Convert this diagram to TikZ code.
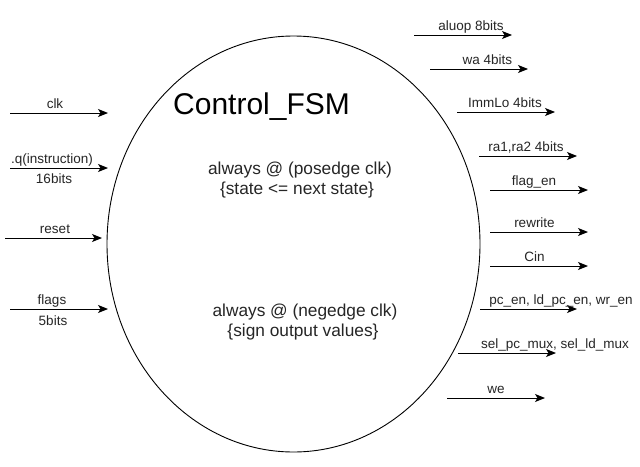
\documentclass[tikz,border=0pt]{standalone}
\usepackage{fontspec}
\setmainfont{Liberation Sans}
\usetikzlibrary{arrows.meta,shapes.geometric}
\begin{document}
\begin{tikzpicture}[x=1pt,y=-1pt,
  sig/.style={-{Stealth[length=10pt,width=8pt,inset=2.5pt]}, line width=1pt, black},
  lbl/.style={font=\fontsize{13.5}{16}\selectfont, anchor=base, text=black!85, inner sep=0pt},
  body/.style={font=\fontsize{17.3}{21}\selectfont, anchor=base, text=black!85, inner sep=0pt}]
\useasboundingbox[fill=white] (0,0) rectangle (640,466);
\node[ellipse, draw, line width=0.9pt, minimum width=373pt, minimum height=416pt, inner sep=0pt] (fsm) at (293.5,244) {};
\node[anchor=base west, inner sep=0pt, font=\fontsize{30}{34}\selectfont] (title) at (173,114) {Control\_FSM};
\node[body] (pos1) at (300,174) {always @ (posedge clk)};
\node[body] (pos2) at (297,194) {\{state <= next state\}};
\node[body] (neg1) at (305,316) {always @ (negedge clk)};
\node[body] (neg2) at (303,336) {\{sign output values\}};
\foreach \n/\a/\b/\y/\t/\lx in {
  clk/10/108/113/clk/55,
  q/10/108/168/.q(instruction)/52,
  reset/5/102/238/reset/55,
  flags/10/108/309/flags/52,
  aluop/414/512/35/aluop 8bits/471,
  wa/430/528/69/wa 4bits/487.5,
  immlo/457/555/112/ImmLo 4bits/505,
  ra/479/577/156/{ra1,ra2 4bits}/526,
  flagen/490/588/190/flag\_en/534,
  rewrite/490/588/232/rewrite/534.5,
  cin/490/588/266/Cin/534.5,
  pcen/480/577/309/{pc\_en, ld\_pc\_en, wr\_en}/561,
  sel/458/556/353/{sel\_pc\_mux, sel\_ld\_mux}/555,
  we/447/545/398/we/496}
{
  \coordinate (\n-s) at (\a,\y);
  \coordinate (\n-e) at (\b,\y);
  \draw[sig] (\n-s) -- (\n-e);
  \node[lbl] (\n-l) at (\lx,{\y-5}) {\t};
}
\node[lbl] (q-w) at (54,183) {16bits};
\node[lbl] (flags-w) at (53,325) {5bits};
\end{tikzpicture}
\end{document}
